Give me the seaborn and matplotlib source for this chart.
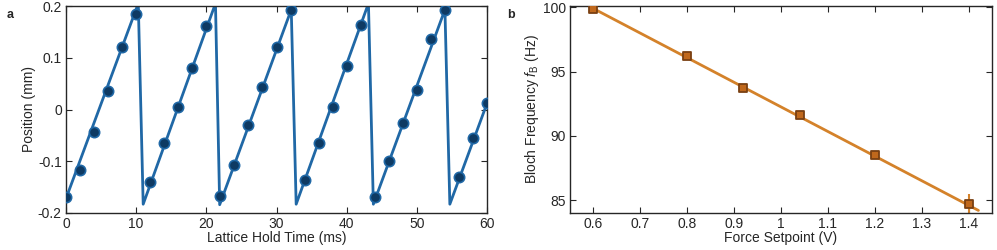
import numpy as np
import pandas as pd
import seaborn as sns
import matplotlib.pyplot as plt
from matplotlib.ticker import FuncFormatter

# panel a: measured positions (every 2 ms) and fitted sawtooth vertices
hold_time = [0, 2, 4, 6, 8, 10, 12, 14, 16, 18, 20, 22, 24, 26, 28, 30,
             32, 34, 36, 38, 40, 42, 44, 46, 48, 50, 52, 54, 56, 58, 60]
position = [-0.170, -0.117, -0.043, 0.035, 0.121, 0.185, -0.141, -0.065,
            0.005, 0.081, 0.161, -0.168, -0.107, -0.030, 0.043, 0.121,
            0.192, -0.137, -0.064, 0.005, 0.085, 0.163, -0.170, -0.100,
            -0.026, 0.038, 0.136, 0.193, -0.130, -0.055, 0.012]
fit_t = [0, 10.3, 11.0, 21.3, 21.9, 32.1, 32.8, 43.1, 43.8, 54.0, 54.7, 60]
fit_pos = [-0.172, 0.205, -0.183, 0.205, -0.184, 0.193, -0.183, 0.205,
           -0.183, 0.193, -0.183, 0.012]

# panel b: Bloch frequency vs force setpoint
setpoint = [0.6, 0.8, 0.92, 1.04, 1.2, 1.4]
bloch_f = [99.85, 96.2, 93.7, 91.6, 88.5, 84.7]
bloch_err = [0.1, 0.1, 0.1, 0.1, 0.1, 0.8]
line_x = [0.6, 1.421]
line_f = [99.9, 84.2]

sns.set_style("ticks")
plt.rcParams['font.family'] = ['Liberation Sans', 'DejaVu Sans']
plt.rcParams['font.size'] = 10
plt.rcParams['axes.unicode_minus'] = False
plt.rcParams['mathtext.fontset'] = 'custom'
plt.rcParams['mathtext.it'] = 'Liberation Sans:italic'
plt.rcParams['mathtext.rm'] = 'Liberation Sans'

blue = '#2068a6'
blue_dark = '#0e3a63'
orange = '#d4822a'
brown = '#7a4012'

fig = plt.figure(figsize=(9.97, 2.5), dpi=100)
ax1 = fig.add_axes([0.0662, 0.148, 0.4223, 0.828])
ax2 = fig.add_axes([0.5717, 0.148, 0.4233, 0.828])

df_fit = pd.DataFrame({'t': fit_t, 'pos': fit_pos})
df_pts = pd.DataFrame({'t': hold_time, 'pos': position})
sns.lineplot(data=df_fit, x='t', y='pos', sort=False, color=blue, lw=2, ax=ax1)
sns.scatterplot(data=df_pts, x='t', y='pos', color=blue_dark, edgecolor=blue,
                linewidth=1.2, s=55, zorder=3, ax=ax1)
ax1.set_xlim(0, 60)
ax1.set_ylim(-0.2, 0.2)
ax1.set_xticks(np.arange(0, 61, 10))
ax1.set_yticks([-0.2, -0.1, 0, 0.1, 0.2])
ax1.yaxis.set_major_formatter(FuncFormatter(lambda v, p: '%g' % round(v, 2)))
ax1.set_xlabel('Lattice Hold Time (ms)', labelpad=0)
ax1.set_ylabel('Position (mm)', labelpad=1)

df_line = pd.DataFrame({'x': line_x, 'f': line_f})
df_b = pd.DataFrame({'x': setpoint, 'f': bloch_f})
sns.lineplot(data=df_line, x='x', y='f', color=orange, lw=2, ax=ax2)
ax2.errorbar(setpoint, bloch_f, yerr=bloch_err, fmt='none', ecolor=orange,
             elinewidth=1.5, capsize=0, zorder=2)
sns.scatterplot(data=df_b, x='x', y='f', marker='s', color='#c0681c',
                edgecolor=brown, linewidth=1.3, s=40, zorder=3, ax=ax2)
ax2.set_xlim(0.55, 1.45)
ax2.set_ylim(84, 100.1)
ax2.set_xticks([0.6, 0.7, 0.8, 0.9, 1.0, 1.1, 1.2, 1.3, 1.4])
ax2.xaxis.set_major_formatter(FuncFormatter(lambda v, p: '%g' % round(v, 2)))
ax2.set_yticks([85, 90, 95, 100])
ax2.set_xlabel('Force Setpoint (V)', labelpad=0)
ax2.set_ylabel(r'Bloch Frequency $f_\mathrm{B}$ (Hz)', labelpad=1)

for ax in (ax1, ax2):
    ax.tick_params(direction='in', top=True, right=True, length=4,
                   width=0.8, labelsize=10, pad=3)
    for s in ax.spines.values():
        s.set_linewidth(1.0)
        s.set_visible(True)

fig.text(0.007, 0.93, 'a', fontsize=9, fontweight='bold')
fig.text(0.509, 0.93, 'b', fontsize=9, fontweight='bold')

fig.savefig('out.png', dpi=100)
